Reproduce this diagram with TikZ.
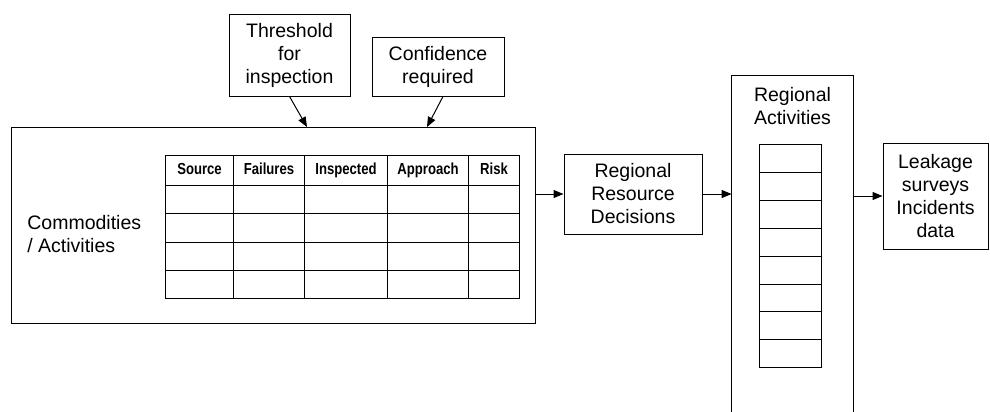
\documentclass[tikz,border=0pt]{standalone}
\usepackage{fontspec}
\setmainfont{Liberation Sans}
\newfontfamily\hdrfont[FakeStretch=0.82]{Liberation Sans}
\usetikzlibrary{positioning, arrows.meta}
\tikzstyle{box}  = [rectangle, draw=black, line width=0.5pt, align=center, inner sep=0pt]
\tikzstyle{cell} = [rectangle, draw=black, line width=0.5pt, inner sep=0pt, anchor=north west, text height=6pt, text depth=1.8pt, font=\hdrfont\bfseries\fontsize{8pt}{9pt}\selectfont]
\tikzstyle{link} = [-{Triangle[length=5pt,width=4pt]}, line width=0.5pt]

\begin{document}
\begin{tikzpicture}[x=0.5pt, y=-0.5pt, font=\fontsize{9.75pt}{11.5pt}\selectfont]
            \useasboundingbox (0,0) rectangle (990,412);

            % commodities / activities with the table
            \node[box, minimum width=262pt, minimum height=98pt] (act) at (273,225) {};
            \node[anchor=west, align=left, inner sep=0pt] (actlab) at (27,234) {Commodities\\/ Activities};
            \foreach \x/\w/\t [count=\i] in {165/34/Source, 233/35.5/Failures, 304/41.5/Inspected, 387/40.5/Approach, 468/25.5/Risk} {
                \node[cell, minimum width=\w*1pt, minimum height=15pt] (h\i) at (\x,155) {\t};
                \foreach \r in {1,...,4}
                    \node[cell, minimum width=\w*1pt, minimum height=14.125pt] (c\i\r) at (\x,{185+(\r-1)*28.25}) {};
            }

            % inputs from above
            \node[box, minimum width=60.5pt, minimum height=41pt] (thr) at (289.5,55) {Threshold\\for\\inspection};
            \node[box, minimum width=66pt, minimum height=29.5pt] (conf) at (438,66.5) {Confidence\\required};
            \coordinate (thrin) at (307,127);
            \coordinate (confin) at (427,127);

            \node[box, minimum width=69pt, minimum height=40pt] (rrd) at (633,194) {Regional\\Resource\\Decisions};

            % regional activities, open at the bottom
            \node[minimum width=60.5pt, minimum height=169pt, inner sep=0pt] (ra) at (792.5,245) {};
            \draw[line width=0.5pt] (ra.south west) -- (ra.north west) -- (ra.north east) -- (ra.south east);
            \node[align=center, inner sep=0pt] (ralab) at (792.5,106) {Regional\\Activities};
            \foreach \r in {1,...,8}
                \node[cell, anchor=north, minimum width=31pt, minimum height=13.95pt] (ra\r) at (790,{144+(\r-1)*27.9}) {};

            \node[box, minimum width=52.5pt, minimum height=53pt] (lk) at (935.5,196) {Leakage\\surveys\\Incidents\\data};

            \draw[link] (thr.south) -- (thrin);
            \draw[link] ([xshift=2.5pt]conf.south) -- (confin);
            \draw[link] (act.east |- rrd.west) -- (rrd.west);
            \draw[link] (rrd.east) -- (rrd.east -| ra.west);
            \draw[link] (ra.east |- lk.west) -- (lk.west);
        \end{tikzpicture}
\end{document}
